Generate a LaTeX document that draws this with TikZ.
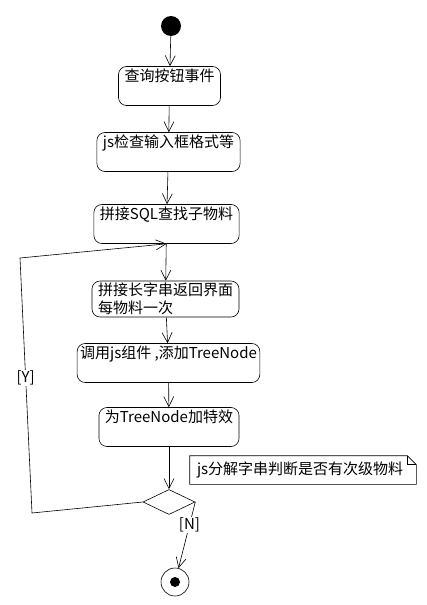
\documentclass[tikz,border=0pt]{standalone}
\usepackage{fontspec}
\setmainfont{Noto Sans CJK SC}
\usepackage{tikz}
\usetikzlibrary{arrows.meta,shapes.geometric}

\begin{document}
\begin{tikzpicture}[
	x=1pt, y=-1pt,
	->,
	>={Straight Barb[length=10pt,width=10pt]},
	semithick,
	font=\fontsize{15}{18}\selectfont,
	actbox/.style={draw, rounded corners=8pt, inner xsep=6pt, inner ysep=2pt, align=left},
	act/.style={actbox, text height=13pt, text depth=22pt},
	decide/.style={draw, diamond, minimum width=52pt, minimum height=25pt, inner sep=0pt},
	note/.style={text width=212pt, minimum height=28pt, inner xsep=7pt, align=left},
	guard/.style={fill=white, inner sep=1pt}
  ]
  \useasboundingbox (0,0) rectangle (426,605);

  \node[circle, fill, inner sep=0pt, minimum size=20pt] (start) at (171,26) {};
  \node[act] (b1) at (169.5,86) 		{查询按钮事件};
  \node[act] (b2) at (168.5,152) 		{js检查输入框格式等};
  \node[act] (b3) at (166.5,224) 		{拼接SQL查找子物料};
  \node[actbox] (b4) at (165.5,299) 	{拼接长字串返回界面\\每物料一次};
  \node[act, inner xsep=3pt] (b5) at (168.5,363) {调用js组件 ,添加TreeNode};
  \node[act] (b6) at (169,427) 		{为TreeNode加特效};
  \node[decide] (dec) at (169,502) 	{};
  \node[circle, draw, inner sep=0pt, minimum size=28pt] (fin) at (175,582) {};
  \node[circle, fill, inner sep=0pt, minimum size=10pt] (finDot) at (fin) {};

  % note
  \node[note] (tip) at (303,470) {js分解字串判断是否有次级物料};
  \draw[-] (tip.north west) -- ([xshift=-9pt]tip.north east) -- ([yshift=-9pt]tip.north east)
        -- (tip.south east) -- (tip.south west) -- cycle;
  \draw[-] ([xshift=-9pt]tip.north east) -- ([xshift=-9pt,yshift=-9pt]tip.north east)
        -- ([yshift=-9pt]tip.north east);

  \coordinate (loopB) at (32,513);
  \coordinate (loopT) at (20,258);

  \draw (start) -- (b1);
  \draw (b1) -- (b2);
  \draw (b2) -- (b3);
  \draw (b3) -- (b4);
  \draw (b4) -- (b5);
  \draw (b5) -- (b6);
  \draw (b6) -- (dec);
  \draw (dec.east) -- node[guard, pos=0.35] {[N]} (fin);
  \draw (dec.west) -- (loopB) -- node[guard, pos=0.53] {[Y]} (loopT) -- (b3.south);

\end{tikzpicture}
\end{document}
